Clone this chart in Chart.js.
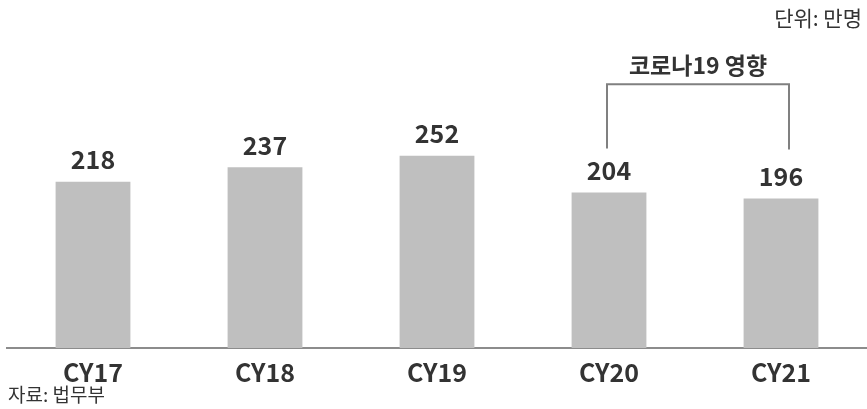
<!DOCTYPE html>
<html>
<head>
<meta charset="utf-8">
<script src="https://cdn.jsdelivr.net/npm/chart.js@4/dist/chart.umd.min.js"></script>
<style>
  html, body { margin: 0; padding: 0; background: #fff; }
  #wrap { width: 867px; height: 409px; }
</style>
</head>
<body>
<div id="wrap"><canvas id="chart" width="867" height="409"></canvas></div>
<script>
const years = ["CY17", "CY18", "CY19", "CY20", "CY21"];
const visitors = [218, 237, 252, 204, 196];
const unitText = "단위: 만명";
const sourceText = "자료: 법무부";
const bracketText = "코로나19 영향";
const bracketFrom = 3;
const bracketTo = 4;

const FONT = "'Noto Sans CJK KR', 'Noto Sans', sans-serif";

// labels on bars, bracket, notes
const overlay = {
    id: "overlay",
    afterDatasetsDraw(chart) {
        const ctx = chart.ctx;
        const meta = chart.getDatasetMeta(0);
        ctx.save();
        ctx.fillStyle = "#333";
        ctx.textAlign = "center";
        ctx.textBaseline = "middle";
        ctx.font = "bold 25px " + FONT;
        meta.data.forEach((bar, i) => {
            ctx.fillText(visitors[i], bar.x, bar.y - 22);
        });

        // bracket over covid years
        const a = meta.data[bracketFrom];
        const b = meta.data[bracketTo];
        const xl = a.x - 2;
        const xr = b.x + 8;
        const yTop = chart.scales.y.getPixelForValue(346);
        ctx.strokeStyle = "#808080";
        ctx.lineWidth = 2;
        ctx.beginPath();
        ctx.moveTo(xl, a.y - 44);
        ctx.lineTo(xl, yTop);
        ctx.lineTo(xr, yTop);
        ctx.lineTo(xr, b.y - 49);
        ctx.stroke();
        ctx.font = "bold 23px " + FONT;
        ctx.fillText(bracketText, (xl + xr) / 2, yTop - 19);

        ctx.font = "21px " + FONT;
        ctx.textAlign = "right";
        ctx.fillText(unitText, 862, 18);
        ctx.font = "19px " + FONT;
        ctx.textAlign = "left";
        ctx.fillText(sourceText, 8, 395);
        ctx.restore();
    }
};

new Chart(document.getElementById("chart"), {
    type: "bar",
    data: {
        labels: years,
        datasets: [{
            data: visitors,
            backgroundColor: "#bfbfbf",
            barPercentage: 0.87,
            categoryPercentage: 0.5
        }]
    },
    options: {
        responsive: false,
        animation: false,
        layout: { padding: { left: 7, right: 0, top: 43, bottom: 13 } },
        plugins: { legend: { display: false }, tooltip: { enabled: false } },
        scales: {
            x: {
                grid: { display: false, drawTicks: false },
                border: { display: true, color: "#8c8c8c", width: 2 },
                ticks: {
                    color: "#333",
                    padding: 9,
                    font: { family: FONT, size: 25, weight: "bold" }
                }
            },
            y: {
                display: false,
                min: 0,
                max: 400
            }
        }
    },
    plugins: [overlay]
});
</script>
</body>
</html>
